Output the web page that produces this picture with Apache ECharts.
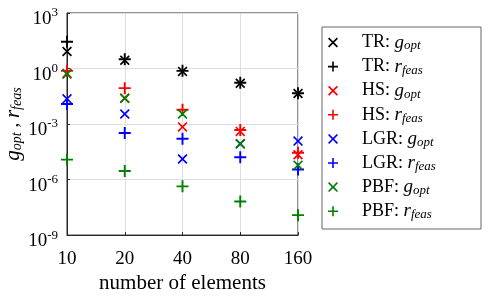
<!DOCTYPE html>
<html><head><meta charset="utf-8">
<script src="https://cdn.jsdelivr.net/npm/echarts@6/dist/echarts.min.js"></script>
<style>html,body{margin:0;padding:0;background:#fff}#c{width:498px;height:299px}</style>
</head><body><div id="c"></div>
<script>
const categories = ['10', '20', '40', '80', '160'];
const methods = ['TR', 'HS', 'LGR', 'PBF'];
const colors = ['#000000', '#ff0000', '#0000ff', '#008000'];
const trGopt  = [8.3, 2.8, 0.7, 0.16, 0.045];
const trRfeas = [28, 3.2, 0.75, 0.17, 0.046];
const hsGopt  = [0.55, 0.025, 7e-4, 4e-4, 2.2e-5];
const hsRfeas = [0.75, 0.087, 0.0059, 4.8e-4, 2.8e-5];
const lgrGopt  = [0.023, 0.0035, 1.3e-5, 8.5e-5, 1.2e-4];
const lgrRfeas = [0.012, 3.3e-4, 1.6e-4, 1.6e-5, 3.5e-6];
const pbfGopt  = [0.5, 0.025, 0.0035, 8.7e-5, 6e-6];
const pbfRfeas = [1.2e-5, 2.9e-6, 4.3e-7, 6.6e-8, 1.2e-8];

const gData = [trGopt, hsGopt, lgrGopt, pbfGopt];
const rData = [trRfeas, hsRfeas, lgrRfeas, pbfRfeas];

const FONT = 'Liberation Serif';
const PLUS = 'path://M-0.16,-1L0.16,-1L0.16,-0.16L1,-0.16L1,0.16L0.16,0.16L0.16,1L-0.16,1L-0.16,0.16L-1,0.16L-1,-0.16L-0.16,-0.16Z';
const CROSS = 'path://M-1,-0.76L-0.76,-1L0,-0.24L0.76,-1L1,-0.76L0.24,0L1,0.76L0.76,1L0,0.24L-0.76,1L-1,0.76L-0.24,0Z';

const series = [];
const legendData = [];
methods.forEach((m, i) => {
  const gName = m + ': g_opt', rName = m + ': r_feas';
  series.push({ name: gName, type: 'scatter', data: gData[i], symbol: CROSS, symbolSize: 10,
    itemStyle: { color: colors[i], opacity: 1 }, emphasis: { disabled: true } });
  series.push({ name: rName, type: 'scatter', data: rData[i], symbol: PLUS, symbolSize: 12,
    itemStyle: { color: colors[i], opacity: 1 }, emphasis: { disabled: true } });
  legendData.push({ name: gName, icon: CROSS });
  legendData.push({ name: rName, icon: PLUS });
});

const richMath = {
  n: { fontFamily: FONT, fontSize: 18, lineHeight: 20, color: '#000' },
  i: { fontFamily: FONT, fontSize: 19, fontStyle: 'italic', lineHeight: 20, color: '#000' },
  sub: { fontFamily: FONT, fontSize: 13, fontStyle: 'italic', lineHeight: 13, verticalAlign: 'bottom', color: '#000' }
};
const richName = {
  n: { fontFamily: FONT, fontSize: 19, lineHeight: 22, color: '#000' },
  i: { fontFamily: FONT, fontSize: 21, fontStyle: 'italic', lineHeight: 22, color: '#000' },
  sub: { fontFamily: FONT, fontSize: 14, fontStyle: 'italic', lineHeight: 14, verticalAlign: 'bottom', color: '#000' }
};
function mathLabel(q) {
  const [v, s] = q.split('_');
  return '{i|' + v + '}{sub|' + s + '}';
}

const chart = echarts.init(document.getElementById('c'), null, { renderer: 'canvas' });
chart.setOption({
  animation: false,
  backgroundColor: '#fff',
  grid: { left: 67, right: 200, top: 13, bottom: 56, show: true, borderColor: '#262626', borderWidth: 1, backgroundColor: 'transparent' },
  graphic: [{ type: 'rect', z: 1, shape: { x: 322, y: 27, width: 159, height: 202 },
    style: { fill: '#fff', stroke: '#666', lineWidth: 1 } }],
  legend: {
    z: 5, orient: 'vertical', left: 328, top: 33, padding: 0,
    itemWidth: 48, itemHeight: 10, itemGap: 4.6, symbolKeepAspect: true,
    data: legendData,
    formatter: name => { const p = name.split(': '); return '{n|' + p[0] + ': }' + mathLabel(p[1]); },
    textStyle: { rich: richMath, fontFamily: FONT, fontSize: 18 }
  },
  xAxis: {
    type: 'category', data: categories, boundaryGap: false,
    axisLine: { lineStyle: { color: '#262626' } },
    axisTick: { inside: true, length: 3, lineStyle: { color: '#262626' } },
    axisLabel: { fontFamily: FONT, fontSize: 19, color: '#000', margin: 14 },
    splitLine: { show: true, lineStyle: { color: '#dedede' } },
    name: 'number of elements', nameLocation: 'middle', nameGap: 31,
    nameTextStyle: { fontFamily: FONT, fontSize: 21, color: '#000' }
  },
  yAxis: {
    type: 'log', logBase: 10, min: 1e-9, max: 1e3, interval: 3,
    axisLine: { show: true, lineStyle: { color: '#262626' } },
    axisTick: { show: true, inside: true, length: 3, lineStyle: { color: '#262626' } },
    minorTick: { show: false },
    splitLine: { show: true, lineStyle: { color: '#dedede' } },
    axisLabel: {
      margin: 9,
      formatter: v => '{b|10}{s|' + Math.round(Math.log10(v)) + '}',
      rich: {
        b: { fontFamily: FONT, fontSize: 19, lineHeight: 19, verticalAlign: 'bottom', color: '#000' },
        s: { fontFamily: FONT, fontSize: 13, lineHeight: 31, verticalAlign: 'middle', color: '#000' }
      }
    },
    name: '{i|g}{sub|opt}{n| , }{i|r}{sub|feas}', nameLocation: 'middle', nameGap: 38,
    nameTextStyle: { rich: richName }
  },
  series: series
});
</script></body></html>
